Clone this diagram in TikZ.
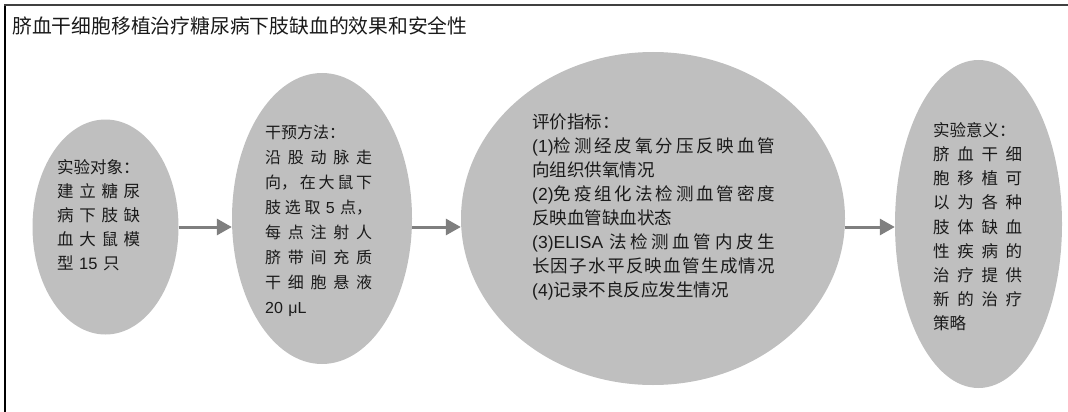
\documentclass[tikz,border=0pt]{standalone}
\usepackage{fontspec}
\setmainfont{Noto Sans CJK SC}
\newfontfamily\lat{Liberation Sans}
\usetikzlibrary{shapes.geometric,arrows.meta}
\XeTeXlinebreaklocale "zh"
\XeTeXlinebreakskip=0pt plus 1fil
\definecolor{ellfill}{HTML}{BFBFBF}
\definecolor{arrcol}{HTML}{7F7F7F}
\definecolor{txtcol}{HTML}{1A1A1A}
\newcommand\prepjust{\parindent=0pt\leftskip=0pt\rightskip=0pt\parfillskip=0pt plus 1fill\relax}
\begin{document}
\begin{tikzpicture}[x=1pt,y=-1pt,
  ell/.style={ellipse, fill=ellfill, draw=none, inner sep=0pt},
  arr/.style={draw=arrcol, line width=3pt, -{Triangle[length=15pt,width=16pt]}},
  txt/.style={anchor=base west, inner sep=0pt, text=txtcol},
  frame/.style={line width=2pt}]
\useasboundingbox (0,0) rectangle (1068,412);
\draw[frame, black] (5,412) -- (5,5);
\draw[frame, black!75] (4,5) -- (1068,5);
\node[txt, font=\fontsize{19.8}{23}\selectfont] (title) at (12,33.5) {脐血干细胞移植治疗糖尿病下肢缺血的效果和安全性};

\node[ell, minimum width=146pt, minimum height=215pt] (e1) at (105.5,227) {};
\node[ell, minimum width=180pt, minimum height=291pt] (e2) at (322,218.5) {};
\node[ell, minimum width=384pt, minimum height=333pt] (e3) at (653,218.5) {};
\node[ell, minimum width=167pt, minimum height=328pt] (e4) at (978.5,224) {};

\draw[arr] (e1.east) -- (e1.east -| e2.west);
\draw[arr] (e2.east |- e1.center) -- (e3.west |- e1.center);
\draw[arr] (e3.east |- e1.center) -- (e4.west |- e1.center);

\node[txt, text width=83pt, font=\fontsize{16.5}{24}\selectfont] (t1) at (57,173.3) {\prepjust
实验对象：\par
建立糖尿\break 病下肢缺\break 血大鼠模\break 型 {\lat 15} 只\par};

\node[txt, text width=107pt, font=\fontsize{16}{25}\selectfont] (t2) at (265,138) {\prepjust
干预方法：\par
沿股动脉走\break 向，在大鼠下\break 肢选取 {\lat 5} 点，\break 每点注射人\break 脐带间充质\break 干细胞悬液\break {\lat 20 μL}\par};

\node[txt, text width=243pt, font=\fontsize{17.5}{24}\selectfont] (t3) at (532,128.6) {\prepjust
评价指标：\par
{\lat (1)}检测经皮氧分压反映血管\break 向组织供氧情况\par
{\lat (2)}免疫组化法检测血管密度\break 反映血管缺血状态\par
{\parfillskip=0pt {\lat (3)ELISA} 法检测血管内皮生\break 长因子水平反映血管生成情况\par}
{\lat (4)}记录不良反应发生情况\par};

\node[txt, text width=89pt, font=\fontsize{16.5}{24.2}\selectfont] (t4) at (933,136.3) {\prepjust
实验意义：\par
脐血干细\break 胞移植可\break 以为各种\break 肢体缺血\break 性疾病的\break 治疗提供\break 新的治疗\break 策略\par};
\end{tikzpicture}
\end{document}
